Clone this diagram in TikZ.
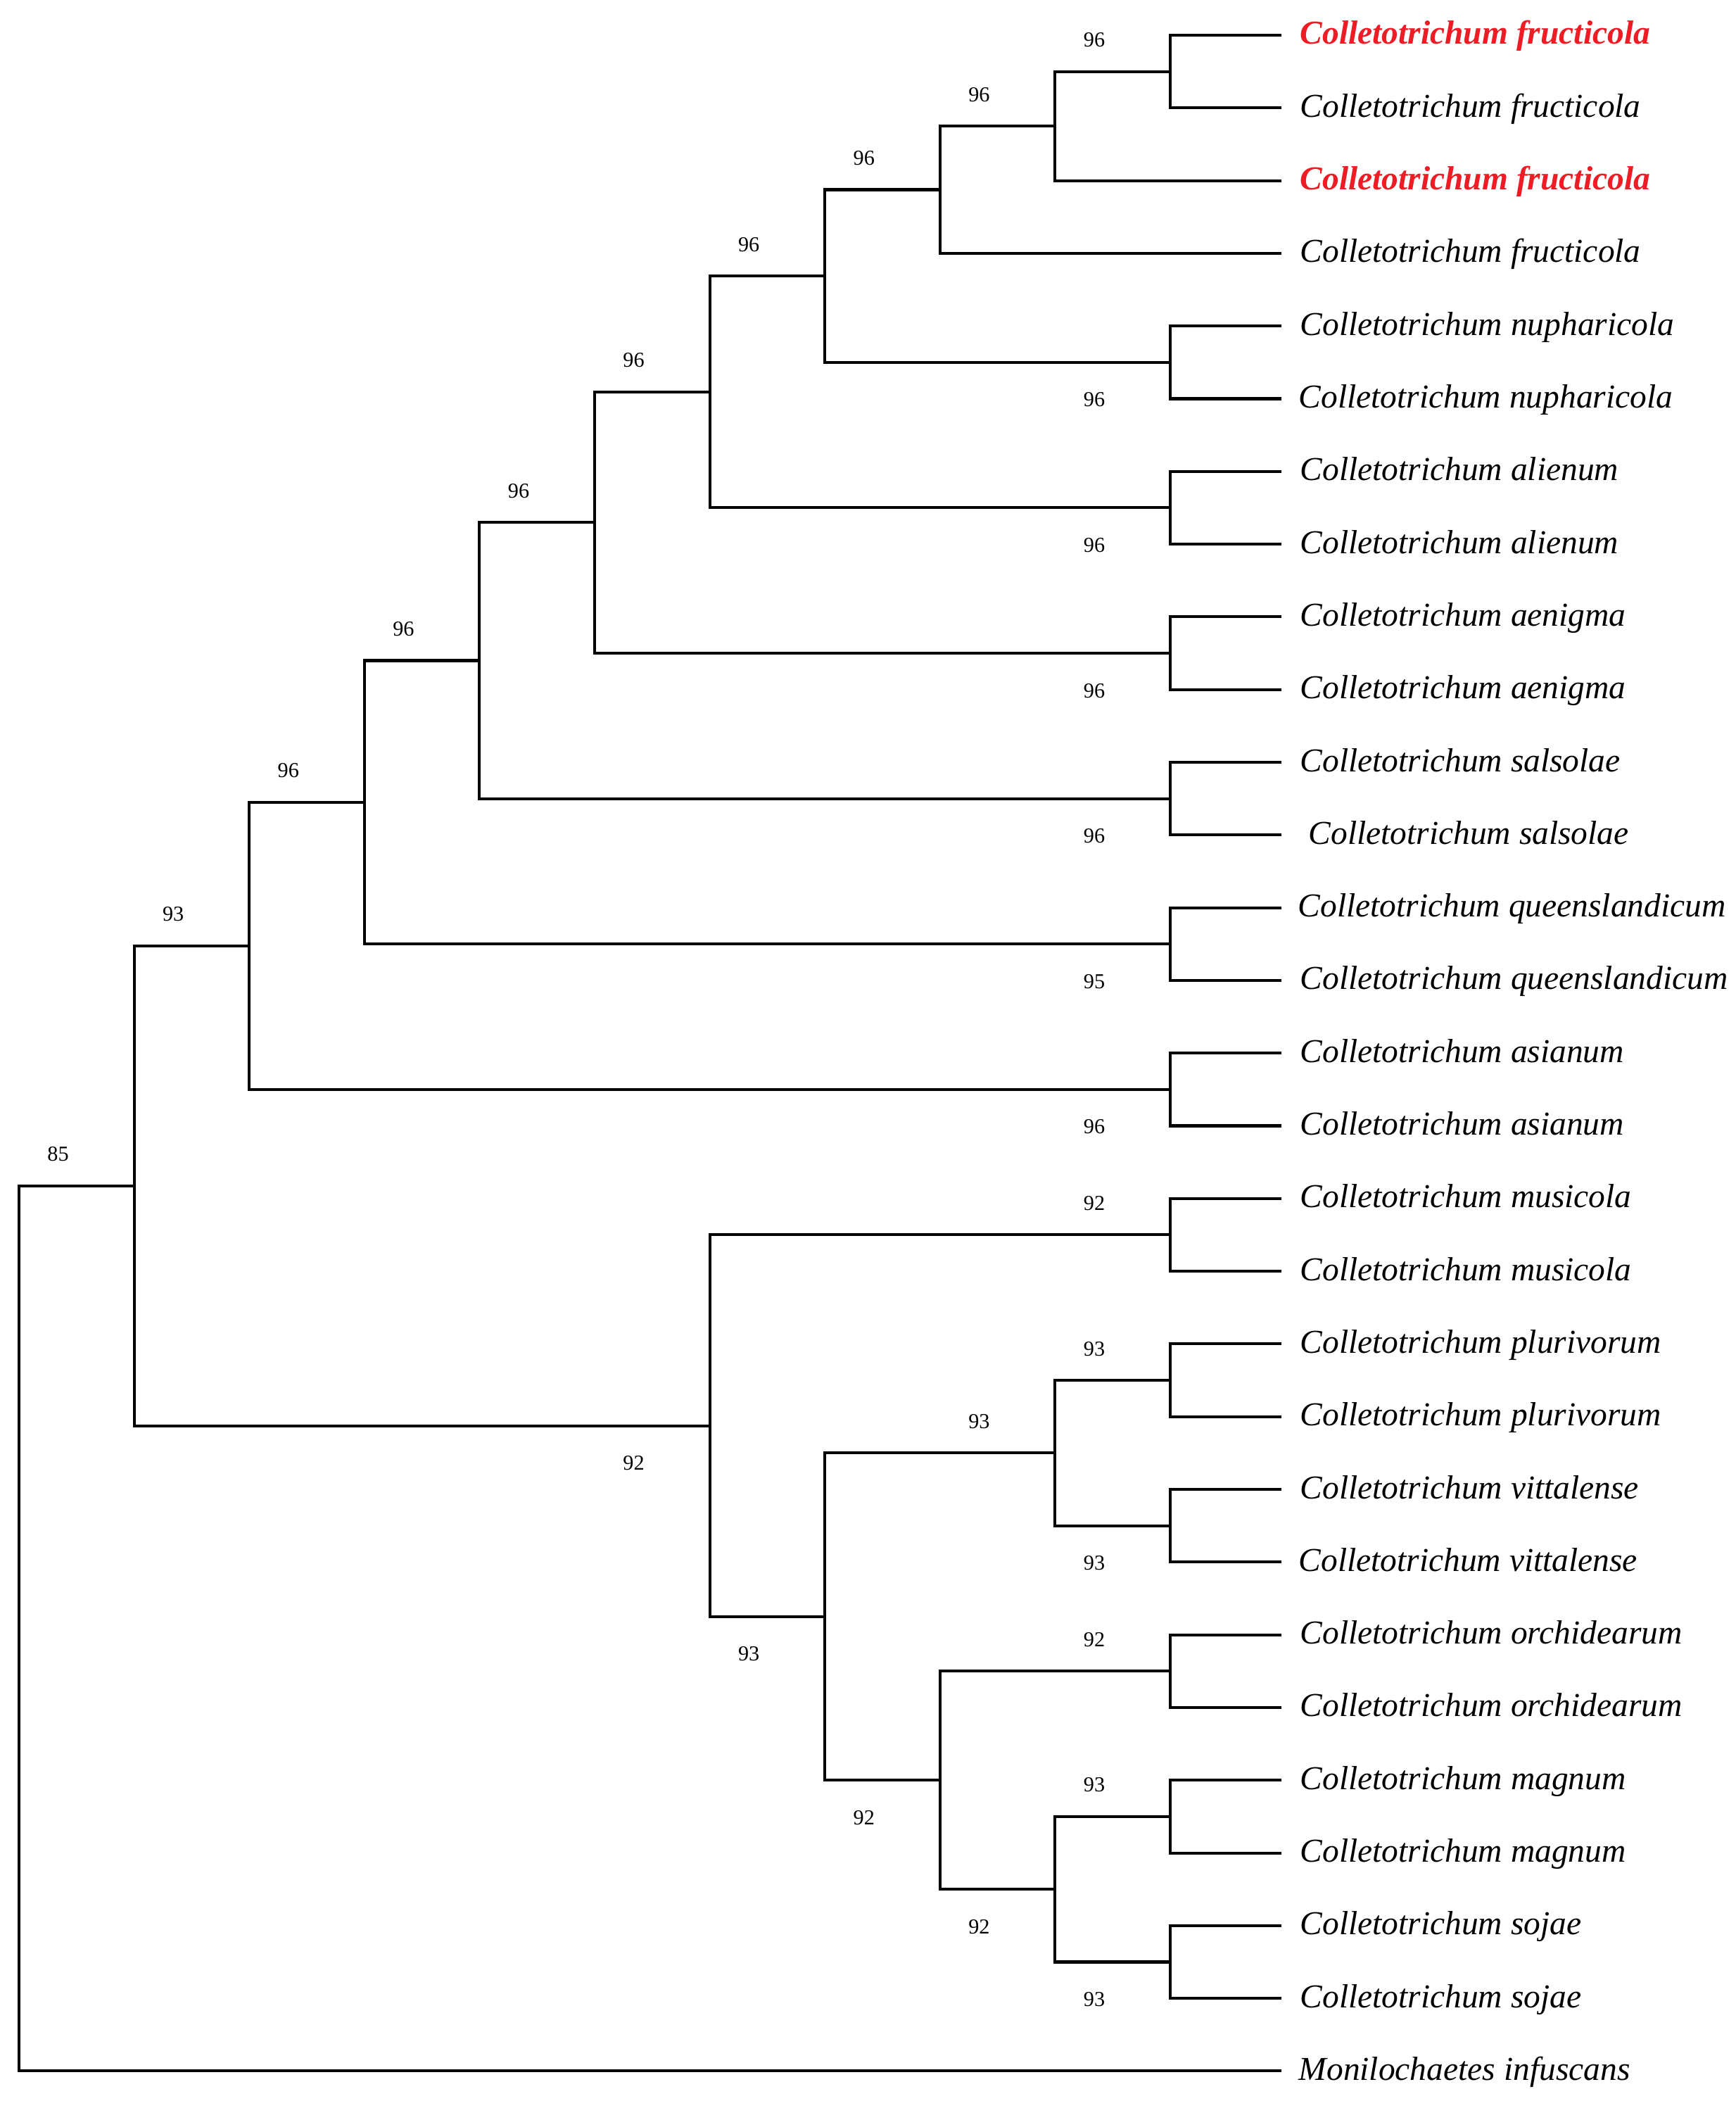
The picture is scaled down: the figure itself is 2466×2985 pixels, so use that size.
\documentclass[tikz,border=0pt]{standalone}
\usepackage{fontspec}
\setmainfont{Liberation Serif}
\definecolor{hl}{HTML}{EE1C25}
\begin{document}
\begin{tikzpicture}[x=0.01cm,y=-0.01cm,
  br/.style={line width=1.15pt},
  taxon/.style={anchor=base west, inner sep=0pt, font=\fontsize{13.5}{16}\selectfont\itshape},
  hltaxon/.style={taxon, font=\fontsize{13.5}{16}\selectfont\bfseries\itshape, text=hl},
  bs/.style={anchor=base, inner sep=0pt, font=\fontsize{8.6}{10}\selectfont}]
\useasboundingbox (0,0) rectangle (2466,2985);
% leaf ends
\foreach \i/\y in {1/50,2/153.3,3/256.6,4/359.9,5/463.2,6/566.5,7/669.8,8/773.1,9/876.4,10/979.7,11/1083,12/1186.3,13/1289.6,14/1392.9,15/1496.2,16/1599.5,17/1702.8,18/1806.1,19/1909.4,20/2012.7,21/2116,22/2219.3,23/2322.6,24/2425.9,25/2529.2,26/2632.5,27/2735.8,28/2839.1,29/2942.4}
  {\coordinate (e\i) at (1821,\y);}
% taxon labels
\node[hltaxon] (t1) at (1847,63) {Colletotrichum fructicola};
\node[taxon] (t2) at (1847,166.3) {Colletotrichum fructicola};
\node[hltaxon] (t3) at (1847,269.6) {Colletotrichum fructicola};
\node[taxon] (t4) at (1847,372.9) {Colletotrichum fructicola};
\node[taxon] (t5) at (1847,476.2) {Colletotrichum nupharicola};
\node[taxon] (t6) at (1845,579.5) {Colletotrichum nupharicola};
\node[taxon] (t7) at (1847,682.8) {Colletotrichum alienum};
\node[taxon] (t8) at (1847,786.1) {Colletotrichum alienum};
\node[taxon] (t9) at (1847,889.4) {Colletotrichum aenigma};
\node[taxon] (t10) at (1847,992.7) {Colletotrichum aenigma};
\node[taxon] (t11) at (1847,1096) {Colletotrichum salsolae};
\node[taxon] (t12) at (1859,1199.3) {Colletotrichum salsolae};
\node[taxon] (t13) at (1844,1302.6) {Colletotrichum queenslandicum};
\node[taxon] (t14) at (1847,1405.9) {Colletotrichum queenslandicum};
\node[taxon] (t15) at (1847,1509.2) {Colletotrichum asianum};
\node[taxon] (t16) at (1847,1612.5) {Colletotrichum asianum};
\node[taxon] (t17) at (1847,1715.8) {Colletotrichum musicola};
\node[taxon] (t18) at (1847,1819.1) {Colletotrichum musicola};
\node[taxon] (t19) at (1847,1922.4) {Colletotrichum plurivorum};
\node[taxon] (t20) at (1847,2025.7) {Colletotrichum plurivorum};
\node[taxon] (t21) at (1847,2129) {Colletotrichum vittalense};
\node[taxon] (t22) at (1845,2232.3) {Colletotrichum vittalense};
\node[taxon] (t23) at (1847,2335.6) {Colletotrichum orchidearum};
\node[taxon] (t24) at (1847,2438.9) {Colletotrichum orchidearum};
\node[taxon] (t25) at (1847,2542.2) {Colletotrichum magnum};
\node[taxon] (t26) at (1847,2645.5) {Colletotrichum magnum};
\node[taxon] (t27) at (1847,2748.8) {Colletotrichum sojae};
\node[taxon] (t28) at (1847,2852.1) {Colletotrichum sojae};
\node[taxon] (t29) at (1845,2955.4) {Monilochaetes infuscans};
% internal nodes
\coordinate (p12) at (1663,101.65);
\coordinate (p56) at (1663,514.85);
\coordinate (p78) at (1663,721.45);
\coordinate (p910) at (1663,928.05);
\coordinate (p1112) at (1663,1134.65);
\coordinate (p1314) at (1663,1341.25);
\coordinate (p1516) at (1663,1547.85);
\coordinate (p1718) at (1663,1754.45);
\coordinate (p1920) at (1663,1961.05);
\coordinate (p2122) at (1663,2167.65);
\coordinate (p2324) at (1663,2374.25);
\coordinate (p2526) at (1663,2580.85);
\coordinate (p2728) at (1663,2787.45);
\coordinate (n9) at (1499.4,179.1);
\coordinate (n8) at (1335.8,269.5);
\coordinate (n7) at (1172.2,392.2);
\coordinate (n6) at (1008.6,556.8);
\coordinate (n5) at (845,742.4);
\coordinate (n4) at (681.4,938.5);
\coordinate (n3) at (517.8,1139.9);
\coordinate (n2) at (354.2,1343.9);
\coordinate (m9a) at (1499.4,2064.35);
\coordinate (m9b) at (1499.4,2684.15);
\coordinate (m8) at (1335.8,2529.2);
\coordinate (m7) at (1172.2,2296.8);
\coordinate (m6) at (1008.6,2025.6);
\coordinate (n1) at (190.6,1684.75);
\coordinate (root) at (27,2313.6);
% branches
\foreach \p/\a/\b in {p12/e1/e2,p56/e5/e6,p78/e7/e8,p910/e9/e10,p1112/e11/e12,p1314/e13/e14,p1516/e15/e16,p1718/e17/e18,p1920/e19/e20,p2122/e21/e22,p2324/e23/e24,p2526/e25/e26,p2728/e27/e28}
  {\draw[br] (\a) -| (\p) |- (\b);}
\draw[br] (p12) -| (n9) |- (e3);
\draw[br] (n9) -| (n8) |- (e4);
\draw[br] (n8) -| (n7) |- (p56);
\draw[br] (n7) -| (n6) |- (p78);
\draw[br] (n6) -| (n5) |- (p910);
\draw[br] (n5) -| (n4) |- (p1112);
\draw[br] (n4) -| (n3) |- (p1314);
\draw[br] (n3) -| (n2) |- (p1516);
\draw[br] (p1920) -| (m9a) |- (p2122);
\draw[br] (p2526) -| (m9b) |- (p2728);
\draw[br] (p2324) -| (m8) |- (m9b);
\draw[br] (m9a) -| (m7) |- (m8);
\draw[br] (p1718) -| (m6) |- (m7);
\draw[br] (n2) -| (n1) |- (m6);
\draw[br] (n1) -| (root) |- (e29);
% bootstrap values (above: -35, below: +63)
\path (p12) ++(-108,-35) node[bs] (b1) {96};
\path (n9) ++(-108,-35) node[bs] (b2) {96};
\path (n8) ++(-108,-35) node[bs] (b3) {96};
\path (n7) ++(-108,-35) node[bs] (b4) {96};
\path (n6) ++(-108,-35) node[bs] (b5) {96};
\path (n5) ++(-108,-35) node[bs] (b6) {96};
\path (n4) ++(-108,-35) node[bs] (b7) {96};
\path (n3) ++(-108,-35) node[bs] (b8) {96};
\path (n2) ++(-108,-35) node[bs] (b9) {93};
\path (n1) ++(-108,-35) node[bs] (b10) {85};
\path (p56) ++(-108,63) node[bs] (b11) {96};
\path (p78) ++(-108,63) node[bs] (b12) {96};
\path (p910) ++(-108,63) node[bs] (b13) {96};
\path (p1112) ++(-108,63) node[bs] (b14) {96};
\path (p1314) ++(-108,63) node[bs] (b15) {95};
\path (p1516) ++(-108,63) node[bs] (b16) {96};
\path (p1718) ++(-108,-35) node[bs] (b17) {92};
\path (m6) ++(-108,63) node[bs] (b18) {92};
\path (m7) ++(-108,63) node[bs] (b19) {93};
\path (m9a) ++(-108,-35) node[bs] (b20) {93};
\path (p1920) ++(-108,-35) node[bs] (b21) {93};
\path (p2122) ++(-108,63) node[bs] (b22) {93};
\path (m8) ++(-108,63) node[bs] (b23) {92};
\path (p2324) ++(-108,-35) node[bs] (b24) {92};
\path (m9b) ++(-108,63) node[bs] (b25) {92};
\path (p2526) ++(-108,-35) node[bs] (b26) {93};
\path (p2728) ++(-108,63) node[bs] (b27) {93};
\end{tikzpicture}
\end{document}
